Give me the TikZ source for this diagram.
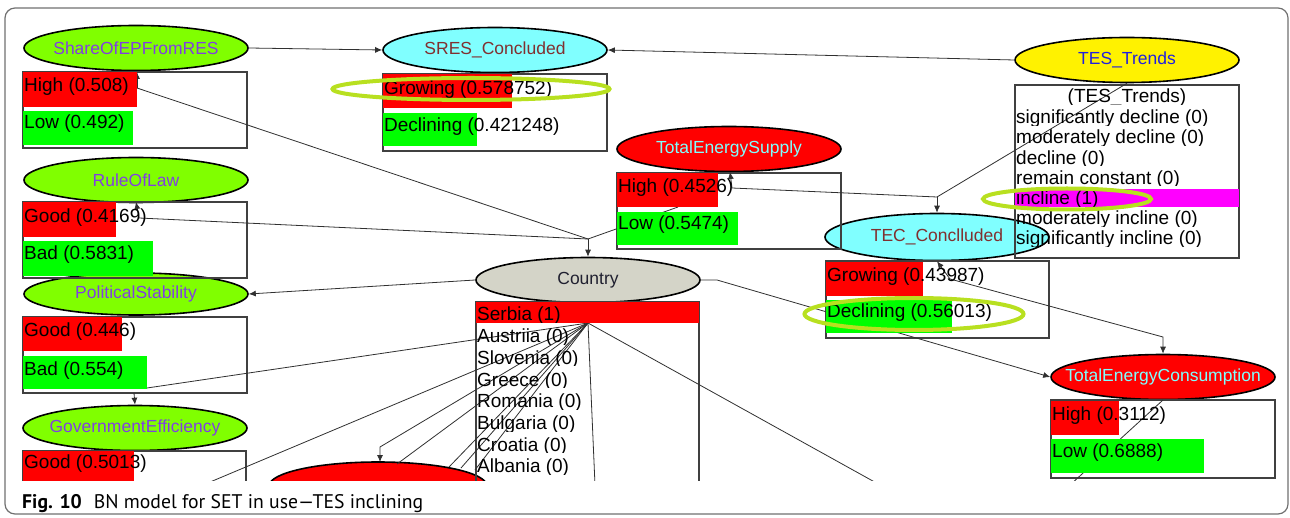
\documentclass[tikz,border=0pt]{standalone}
\usepackage{fontspec}
\setmainfont{Liberation Sans}
\newfontfamily\capfont[Ligatures=TeX]{PT Sans}
\usetikzlibrary{arrows.meta,shapes,positioning,calc}

\definecolor{limefill}{HTML}{80FF00}
\definecolor{violettext}{HTML}{8040E0}
\definecolor{cyanfill}{HTML}{80FFFF}
\definecolor{maroontext}{HTML}{803030}
\definecolor{barred}{HTML}{FF0000}
\definecolor{bargreen}{HTML}{00FF00}
\definecolor{barmagenta}{HTML}{FF00FF}
\definecolor{bluetext}{HTML}{2020E0}
\definecolor{countryfill}{HTML}{D4D4C8}
\definecolor{countrytext}{HTML}{202030}
\definecolor{hilite}{HTML}{B8E020}
\definecolor{framegray}{HTML}{707070}
\definecolor{wiregray}{HTML}{303030}

\newcommand{\ntitle}[1]{\makebox[0pt]{#1}}

\tikzset{
  bnnode/.style={ellipse,draw=black,line width=1.6pt,minimum width=224pt,minimum height=45pt,inner sep=0pt,
    font=\fontsize{17.5}{20}\selectfont},
  statebox/.style={draw=black!75,line width=1.2pt},
  statetext/.style={anchor=base west,inner sep=0pt,font=\fontsize{19}{21}\selectfont,text=black},
  wire/.style={draw=wiregray,line width=0.8pt},
  link/.style={wire,-{Latex[length=7pt,width=6pt]}},
  hiring/.style={draw=hilite,line width=4pt},
}

\begin{document}
\begin{tikzpicture}[x=1pt,y=-1pt]
	\useasboundingbox (0,0) rectangle (1290,518);
	\draw[framegray,line width=1.2pt,rounded corners=10pt] (5,8) rectangle (1288,514);

	\begin{scope}
	\clip (6,9) rectangle (1287,480);

	% network nodes
	\node[bnnode,fill=limefill,  text=violettext ] (shareEP)  at (136,48)  {\ntitle{ShareOfEPFromRES}};
	\node[bnnode,fill=limefill,  text=violettext ] (ruleLaw)  at (136,180) {\ntitle{RuleOfLaw}};
	\node[bnnode,fill=limefill,  text=violettext,minimum height=42pt] (polStab) at (136,294) {\ntitle{PoliticalStability}};
	\node[bnnode,fill=limefill,  text=violettext ] (govEff)   at (135,428) {\ntitle{GovernmentEfficiency}};
	\node[bnnode,fill=cyanfill,  text=maroontext ] (sres)     at (495,50)  {\ntitle{SRES\_Concluded}};
	\node[bnnode,fill=barred,    text=cyanfill   ] (teSupply) at (729,149) {\ntitle{TotalEnergySupply}};
	\node[bnnode,fill=yellow,    text=bluetext   ] (tesTrend) at (1127,60) {\ntitle{TES\_Trends}};
	\node[bnnode,fill=cyanfill,  text=maroontext,minimum height=47pt] (tec) at (937,237) {\ntitle{TEC\_Conclluded}};
	\node[bnnode,fill=countryfill,text=countrytext] (country) at (588,280) {\ntitle{Country}};
	\node[bnnode,fill=barred,    text=cyanfill   ] (teCons)   at (1163,377) {\ntitle{TotalEnergyConsumption}};
	\node[bnnode,fill=barred,minimum width=218pt,minimum height=48pt] (lowerNode) at (378,486) {};

	% state boxes
	\draw[statebox] (23,72)    rectangle (247,148);
	\draw[statebox] (23,202)   rectangle (247,278);
	\draw[statebox] (23,317)   rectangle (247,393);
	\draw[statebox] (23,451)   rectangle (246,495);
	\draw[statebox] (383,74)   rectangle (607,151);
	\draw[statebox] (617,173)  rectangle (841,249);
	\draw[statebox] (1015,85)  rectangle (1239,258);
	\draw[statebox] (826,261)  rectangle (1049,338);
	\draw[statebox] (476,302)  rectangle (699,495);
	\draw[statebox] (1051,400) rectangle (1275,478);

	% links
	\coordinate (j1)     at (588,239);
	\coordinate (j2)     at (937,197);
	\coordinate (cs)     at (588,323);
	\coordinate (bend)   at (717,280);
	\coordinate (sHigh)  at (137,88);
	\coordinate (rGood)  at (139,218);
	\coordinate (tsLow)  at (678,207);
	\coordinate (tsHigh) at (732,188);
	\coordinate (tcGrow) at (950,279);
	\coordinate (tcKnee) at (1163,337);
	\coordinate (fanA)   at (380,447);

	\draw[link] (shareEP.east) -- (sres.west);
	\draw[link] (tesTrend.west) -- (sres.east);
	\draw[link] (country.west) -- (polStab.east);
	\draw[wire] (j1) -- (sHigh);  \draw[link] (sHigh) -- (137,72);
	\draw[wire] (j1) -- (rGood);  \draw[link] (rGood) -- (136,202);
	\draw[wire] (j1) -- (tsLow);
	\draw[link] (j1) -- (country.north);
	\draw[wire] (j2) -- (tsHigh); \draw[link] (tsHigh) -- (730,172);
	\draw[wire] (j2) -- (tesTrend.south);
	\draw[link] (j2) -- (tec.north);
	\draw[link] (tcGrow) -- (tec.south);
	\draw[link] (tcGrow) -- (tcKnee) -- (teCons.north);
	\draw[link] (country.east) -- (bend) -- (teCons.west);
	\draw[link] (134,393) -- (govEff.north);
	\draw[wire] (1163,400) -- (1070,485);

	\draw[wire] (cs) -- (147,388);
	\draw[wire] (cs) -- (203,485);
	\draw[link] (cs) -- (fanA) -- (380,462);
	\draw[wire] (cs) -- (397,464);
	\draw[wire] (cs) -- (449,467);
	\draw[wire] (cs) -- (461,468);
	\draw[wire] (cs) -- (475,470);
	\draw[wire] (cs) -- (595,485);
	\draw[wire] (cs) -- (880,485);

	% probability bars
	\fill[barred]     (23,72)    rectangle (137,107);
	\fill[bargreen]   (23,111)   rectangle (133,145);
	\fill[barred]     (23,202)   rectangle (116,237);
	\fill[bargreen]   (23,241)   rectangle (153,276);
	\fill[barred]     (23,317)   rectangle (122,351);
	\fill[bargreen]   (23,356)   rectangle (147,389);
	\fill[barred]     (23,451)   rectangle (134,490);
	\fill[barred]     (383,74)   rectangle (512,108);
	\fill[bargreen]   (383,113)  rectangle (477,146);
	\fill[barred]     (617,173)  rectangle (718,207);
	\fill[bargreen]   (617,212)  rectangle (738,245);
	\fill[barred]     (826,262)  rectangle (923,296);
	\fill[bargreen]   (826,300)  rectangle (952,333);
	\fill[barred]     (1051,401) rectangle (1119,435);
	\fill[bargreen]   (1051,439) rectangle (1204,473);
	\fill[barmagenta] (1015,189) rectangle (1239,207);
	\fill[barred]     (476,302)  rectangle (699,323);

	% state labels
	\node[statetext] at (24,92)    {High (0.508)};
	\node[statetext] at (24,129)   {Low (0.492)};
	\node[statetext] at (24,223)   {Good (0.4169)};
	\node[statetext] at (24,260)   {Bad (0.5831)};
	\node[statetext] at (24,337)   {Good (0.446)};
	\node[statetext] at (24,375)   {Bad (0.554)};
	\node[statetext] at (24,468)   {Good (0.5013)};
	\node[statetext] at (384,95)   {Growing (0.578752)};
	\node[statetext] at (384,132)  {Declining (0.421248)};
	\node[statetext] at (618,193)  {High (0.4526)};
	\node[statetext] at (618,230)  {Low (0.5474)};
	\node[statetext] at (827,282)  {Growing (0.43987)};
	\node[statetext] at (827,318)  {Declining (0.56013)};
	\node[statetext] at (1052,420) {High (0.3112)};
	\node[statetext] at (1052,457) {Low (0.6888)};

	\begin{scope}
		\clip (1015,86) rectangle (1239,104.5);
		\node[statetext,anchor=base] at (1127,103) {(TES\_Trends)};
	\end{scope}
	\foreach \txt [count=\k] in {significantly decline (0),moderately decline (0),decline (0),remain constant (0),incline (1),moderately incline (0),significantly incline (0)}{
		\pgfmathsetmacro{\bl}{103.6+20.2*\k}
		\begin{scope}
			\clip (1015,\bl-17) rectangle (1239,\bl+1.5);
			\node[statetext] at (1016,\bl) {\txt};
		\end{scope}
	}
	\foreach \txt [count=\k from 0] in {Serbia (1),Austriia (0),Slovenia (0),Greece (0),Romania (0),Bulgaria (0),Croatia (0),Albania (0)}{
		\pgfmathsetmacro{\bl}{321+21.7*\k}
		\begin{scope}
			\clip (476,\bl-17) rectangle (699,\bl+1.5);
			\node[statetext] at (477,\bl) {\txt};
		\end{scope}
	}

	% evidence marks
	\draw[hiring] (471,89)  ellipse (138.5 and 11);
	\draw[hiring] (1067,199) ellipse (84 and 10.5);
	\draw[hiring] (914,314) ellipse (109.5 and 16);
	\end{scope}

	\node[anchor=base west,inner sep=0pt,font=\capfont\fontsize{19.7}{22}\selectfont] (caption) at (22,508)
		{\textbf{Fig. 10}\hspace{12pt}BN model for SET in use—TES inclining};
\end{tikzpicture}
\end{document}
